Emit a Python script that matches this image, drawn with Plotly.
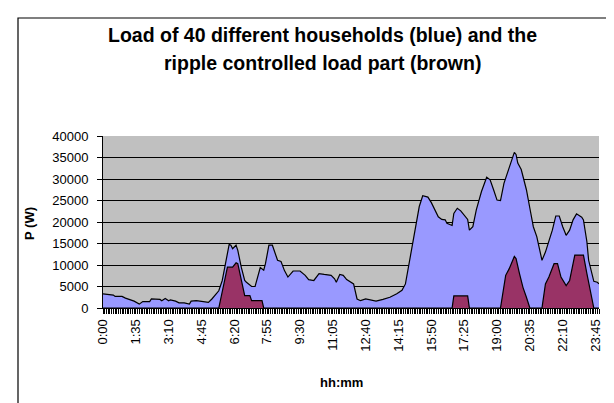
import plotly.graph_objects as go

# ---- data ----
blue_times = ["0:00","0:15","0:30","0:35","0:55","1:05","1:15","1:30","1:45","1:55","2:15","2:20","2:45","2:50",
              "3:00","3:10","3:15","3:30","3:40","3:55","4:10","4:15","4:30","4:45","5:05","5:15","5:35","5:45",
              "5:55","6:05","6:10","6:15","6:25","6:30","6:40","6:50","6:55","7:10","7:20","7:30","7:35","7:45",
              "7:50","8:00","8:10","8:25","8:35","8:45","8:55","9:10","9:30","9:45","9:55","10:10","10:25","10:40",
              "11:00","11:10","11:15","11:25","11:35","11:45","11:55","12:05","12:15","12:25","12:40","12:55",
              "13:10","13:30","13:50","14:10","14:25","14:35","14:45","14:55","15:05","15:15","15:25","15:40",
              "15:50","16:00","16:10","16:20","16:30","16:35","16:45","16:50","16:55","17:05","17:15","17:25",
              "17:35","17:40","17:50","18:00","18:15","18:30","18:40","18:50","19:00","19:10","19:20","19:35",
              "19:50","19:55","20:00","20:10","20:25","20:35","20:45","20:55","21:00","21:10","21:20","21:30",
              "21:40","21:50","22:00","22:10","22:20","22:30","22:40","22:50","23:05","23:10","23:20","23:25",
              "23:35","23:40","23:50","23:55"]
blue_values = [3300,3100,3000,2700,2700,2300,2000,1600,900,1500,1500,2100,2000,1700,
               2200,1700,1900,1600,1200,1200,900,1600,1700,1500,1300,2100,4000,6400,
               11100,14800,14600,13800,14600,13400,9500,6400,6000,5000,5000,8000,9400,8800,
               10300,14600,14600,11100,10800,8700,7200,8600,8600,7600,6600,6400,8000,7800,
               7600,6800,6000,7800,7600,6600,6000,5600,2100,1700,2100,1900,
               1600,2000,2500,3300,4100,5600,10300,14200,19700,23600,26100,25800,
               24500,23000,21200,20600,20500,19700,19400,19200,22000,23200,22600,21600,
               20600,18100,18900,22800,27100,30400,29800,27500,25100,25000,29000,32600,
               36200,35700,33700,32200,27500,23200,18900,16600,14600,11100,13000,15400,
               18100,21400,21400,18900,16900,18100,20500,21900,21100,20500,15400,11100,
               8000,6200,6000,5600]

brown_times = ["0:00","5:35","6:00","6:15","6:25","6:30","6:50","7:05","7:10","7:40","7:45",
               "16:50","16:55","17:35","17:40",
               "19:10","19:25","19:35","19:50","19:55","20:05","20:15","20:25","20:35",
               "21:10","21:20","21:30","21:45","21:55","22:05","22:20","22:30","22:45","23:10",
               "23:20","23:30","23:40","23:55"]
brown_values = [0,0,9500,9500,10500,10300,2900,2900,1700,1700,0,
                0,2800,2800,0,
                0,7600,9100,12000,11500,8000,4800,2500,0,
                0,5600,7200,10300,10300,7200,5200,6400,12300,12300,
                8000,4100,0,0]

tick_labels = ["0:00","1:35","3:10","4:45","6:20","7:55","9:30","11:05","12:40","14:15",
               "15:50","17:25","19:00","20:35","22:10","23:45"]


def to_min(t):
    h, m = t.split(":")
    return int(h) * 60 + int(m)


bx = [to_min(t) for t in blue_times]
brx = [to_min(t) for t in brown_times]
tickvals = [to_min(t) for t in tick_labels]

FONT = "Liberation Sans, Arial, sans-serif"

fig = go.Figure()
fig.add_trace(go.Scatter(x=bx, y=blue_values, mode="lines", fill="tozeroy",
                         fillcolor="#9999FF", line=dict(color="black", width=1.2),
                         hoverinfo="skip", showlegend=False))
fig.add_trace(go.Scatter(x=brx, y=brown_values, mode="lines", fill="tozeroy",
                         fillcolor="#993366", line=dict(color="black", width=1.2),
                         hoverinfo="skip", showlegend=False))

W, H = 614, 403
L, R, T, B = 95, 591, 128, 300
pw, ph = R - L, B - T

def px_x(p):
    return (p - L) / pw

def px_y(p):
    return (B - p) / ph

fig.update_layout(
    width=W, height=H,
    margin=dict(l=L, r=W - R, t=T, b=H - B),
    paper_bgcolor="white", plot_bgcolor="#C0C0C0",
    font=dict(family=FONT, color="black", size=13),
    xaxis=dict(range=[0, 1435], tickvals=tickvals, ticktext=tick_labels, tickangle=-90,
               showline=True, linecolor="black", linewidth=1, ticks="outside", ticklen=5,
               tickcolor="black", showgrid=False, zeroline=False,
               minor=dict(dtick=5, tick0=0, ticks="outside", ticklen=5, tickcolor="black", showgrid=False),
               tickfont=dict(size=13, family=FONT)),
    yaxis=dict(range=[0, 40000], dtick=5000, tickformat="d", showline=True, linecolor="black",
               linewidth=1, ticks="outside", ticklen=5, tickcolor="black",
               showgrid=True, gridcolor="black", gridwidth=1, zeroline=False,
               tickfont=dict(size=13, family=FONT), ticklabelstandoff=6),
    shapes=[dict(type="rect", xref="paper", yref="paper",
                 x0=px_x(10), x1=px_x(W + 20), y0=px_y(H + 20), y1=px_y(10),
                 line=dict(color="black", width=1.2), fillcolor="rgba(0,0,0,0)", layer="below")],
    annotations=[
        dict(text="<b>Load of 40 different households (blue) and the</b>",
             xref="paper", yref="paper", x=px_x(314), y=px_y(27), xanchor="center", yanchor="middle",
             showarrow=False, font=dict(size=19.5, family=FONT)),
        dict(text="<b>ripple controlled load part (brown)</b>",
             xref="paper", yref="paper", x=px_x(314), y=px_y(55), xanchor="center", yanchor="middle",
             showarrow=False, font=dict(size=19.5, family=FONT)),
        dict(text="<b>hh:mm</b>", xref="paper", yref="paper", x=px_x(333), y=px_y(374),
             xanchor="center", yanchor="middle", showarrow=False, font=dict(size=13, family=FONT)),
        dict(text="<b>P (W)</b>", xref="paper", yref="paper", x=px_x(21), y=px_y(216),
             xanchor="center", yanchor="middle", showarrow=False, textangle=-90,
             font=dict(size=13, family=FONT)),
    ],
)

fig.write_html("out.html")
